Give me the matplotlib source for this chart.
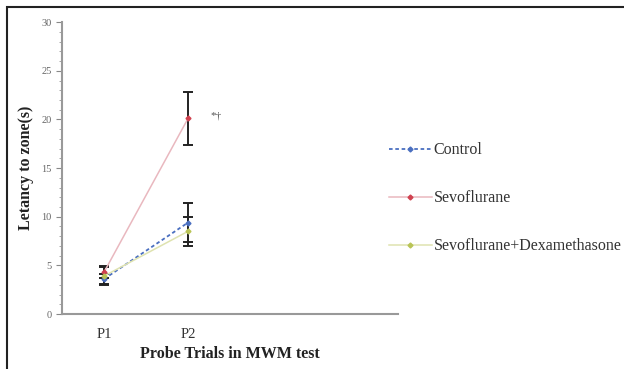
import matplotlib
matplotlib.use("Agg")
import matplotlib.pyplot as plt
from matplotlib.patches import Rectangle

categories = ["P1", "P2"]
series_names = ["Control", "Sevoflurane", "Sevoflurane+Dexamethasone"]
control = [3.6, 9.4]
control_err = [0.5, 2.0]
sevo = [4.3, 20.1]
sevo_err = [0.6, 2.7]
sevodex = [3.9, 8.5]
sevodex_err = [0.9, 1.5]
annotation = "*†"

fig = plt.figure(figsize=(6.24, 3.69), dpi=100)
ax = fig.add_axes([0.0994, 0.149, 0.5385, 0.791])

serif = ["Liberation Serif", "DejaVu Serif"]
x = [0.5, 1.5]

styles = [
    (control, control_err, "#4a6fc0", "#4a6fc0", (0, (2, 1.5)), 1.3),
    (sevo, sevo_err, "#e9b8bf", "#d0414f", "-", 1.1),
    (sevodex, sevodex_err, "#dfe3b0", "#b9c456", "-", 1.1),
]
handles = []
for (vals, err, lc, mc, ls, lw), name in zip(styles, series_names):
    ax.errorbar(x, vals, yerr=err, fmt="none", ecolor="#222222", elinewidth=1.4,
                capsize=3.5, capthick=1.4, zorder=2)
    h, = ax.plot(x, vals, color=lc, linestyle=ls, linewidth=lw, marker="D",
                 markersize=2.5, markerfacecolor=mc, markeredgecolor=mc, zorder=3,
                 label=name)
    handles.append(h)

ax.text(1.77, 20.4, annotation, fontsize=8, color="#555555", family=serif, va="center")

ax.set_xlim(0, 4)
ax.set_ylim(0, 30)
ax.set_xticks(x)
ax.set_xticklabels(categories, family=serif, fontsize=10.5, color="#333333")
ax.set_yticks(range(0, 31, 5))
ax.set_yticks(range(0, 31, 1), minor=True)
ax.tick_params(axis="y", which="major", length=4, color="#888888", labelsize=7.5,
               labelcolor="#666666", direction="out")
ax.tick_params(axis="y", which="minor", length=2, color="#999999", direction="out")
ax.tick_params(axis="x", length=0, pad=10)
for lab in ax.get_yticklabels():
    lab.set_family(serif)
for s in ["top", "right"]:
    ax.spines[s].set_visible(False)
for s in ["left", "bottom"]:
    ax.spines[s].set_color("#999999")
    ax.spines[s].set_linewidth(1.5)

ax.set_ylabel("Letancy to zone(s)", family=serif, fontweight="bold", fontsize=11.5,
              color="#222222", labelpad=5)
ax.set_xlabel("Probe Trials in MWM test", family=serif, fontweight="bold", fontsize=11.5,
              color="#222222", labelpad=4)

leg = fig.legend(handles=handles, labels=series_names, loc="upper left",
                 bbox_to_anchor=(0.600, 0.653), frameon=False, handlelength=2.7,
                 handletextpad=0.1, labelspacing=2.0,
                 prop={"family": serif, "size": 11.5})
for t in leg.get_texts():
    t.set_color("#333333")

rect = Rectangle((7 / 624, -0.1), 1.2, 1 - 7 / 369 + 0.1, transform=fig.transFigure,
                 fill=False, edgecolor="#222222", linewidth=1.5, clip_on=False)
fig.patches.append(rect)

fig.savefig("out.png", dpi=100)
